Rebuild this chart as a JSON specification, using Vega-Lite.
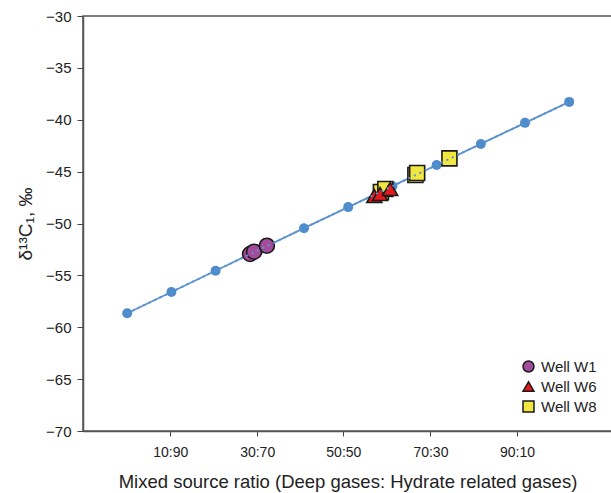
{
  "$schema": "https://vega.github.io/schema/vega-lite/v6.json",
  "width": 529,
  "height": 415,
  "autosize": "none",
  "padding": {"left": 83, "top": 16, "right": 0, "bottom": 62},
  "background": "white",
  "config": {
    "font": "Liberation Sans",
    "view": {"stroke": "#555", "strokeWidth": 1.5},
    "axis": {
      "grid": false,
      "domainColor": "#555",
      "domainWidth": 1.5,
      "tickColor": "#444",
      "labelColor": "#222",
      "titleColor": "#222",
      "labelFontSize": 14,
      "titleFontWeight": "normal"
    }
  },
  "datasets": {
    "line": [
      {"ratio": 0, "d13c": -58.65},
      {"ratio": 10, "d13c": -56.6},
      {"ratio": 20, "d13c": -54.55},
      {"ratio": 30, "d13c": -52.5},
      {"ratio": 40, "d13c": -50.45},
      {"ratio": 50, "d13c": -48.42},
      {"ratio": 60, "d13c": -46.4},
      {"ratio": 70, "d13c": -44.36},
      {"ratio": 80, "d13c": -42.33},
      {"ratio": 90, "d13c": -40.3},
      {"ratio": 100, "d13c": -38.28}
    ],
    "wells": [
      {"well": "Well W6", "ratio": 55.9, "d13c": -47.35},
      {"well": "Well W6", "ratio": 57.2, "d13c": -47.16},
      {"well": "Well W6", "ratio": 59.5, "d13c": -46.67},
      {"well": "Well W8", "ratio": 57.4, "d13c": -46.96},
      {"well": "Well W8", "ratio": 58.4, "d13c": -46.67},
      {"well": "Well W8", "ratio": 65.2, "d13c": -45.33},
      {"well": "Well W8", "ratio": 65.6, "d13c": -45.13},
      {"well": "Well W8", "ratio": 72.9, "d13c": -43.72},
      {"well": "Well W1", "ratio": 27.8, "d13c": -52.94},
      {"well": "Well W1", "ratio": 28.7, "d13c": -52.72},
      {"well": "Well W1", "ratio": 31.6, "d13c": -52.14}
    ]
  },
  "layer": [
    {
      "data": {"name": "line"},
      "mark": {"type": "line", "color": "#5b93cf", "strokeWidth": 1.8},
      "encoding": {
        "x": {
          "field": "ratio", "type": "quantitative",
          "scale": {"domain": [-10, 109.68], "nice": false, "zero": false},
          "axis": {
            "values": [9.75, 29.4, 48.9, 68.6, 88.2],
            "labelExpr": "datum.value < 20 ? '10:90' : datum.value < 40 ? '30:70' : datum.value < 60 ? '50:50' : datum.value < 80 ? '70:30' : '90:10'",
            "title": "Mixed source ratio (Deep gases: Hydrate related gases)",
            "titleFontSize": 18.5,
            "tickSize": 5,
            "labelPadding": 9,
            "titlePadding": 13
          }
        },
        "y": {
          "field": "d13c", "type": "quantitative",
          "scale": {"domain": [-70, -30], "nice": false, "zero": false},
          "axis": {
            "values": [-70, -65, -60, -55, -50, -45, -40, -35, -30],
            "title": "δ¹³C₁, ‰",
            "titleFontSize": 19,
            "labelFontSize": 15,
            "tickSize": 6,
            "labelPadding": 6,
            "titlePadding": 10
          }
        }
      }
    },
    {
      "data": {"name": "line"},
      "mark": {"type": "circle", "color": "#4f8ccb", "opacity": 1, "size": 100},
      "encoding": {
        "x": {"field": "ratio", "type": "quantitative"},
        "y": {"field": "d13c", "type": "quantitative"}
      }
    },
    {
      "data": {"name": "wells"},
      "mark": {"type": "point", "filled": true, "opacity": 1, "stroke": "#1a1a1a", "strokeWidth": 1.6, "size": 225},
      "encoding": {
        "x": {"field": "ratio", "type": "quantitative"},
        "y": {"field": "d13c", "type": "quantitative"},
        "color": {
          "field": "well", "type": "nominal",
          "scale": {"domain": ["Well W1", "Well W6", "Well W8"], "range": ["#a44c9c", "#e3191c", "#f2e641"]},
          "legend": {
            "title": null,
            "orient": "none",
            "legendX": 438,
            "legendY": 343,
            "labelFontSize": 15,
            "labelColor": "#222",
            "symbolSize": 120,
            "symbolStrokeColor": "#1a1a1a",
            "symbolStrokeWidth": 1.5,
            "symbolOpacity": 1,
            "rowPadding": 3,
            "labelOffset": 5
          }
        },
        "shape": {
          "field": "well", "type": "nominal",
          "scale": {"domain": ["Well W1", "Well W6", "Well W8"], "range": ["circle", "triangle-up", "square"]}
        },
        "order": {"field": "well", "sort": "descending"}
      }
    },
    {
      "data": {"name": "line"},
      "mark": {"type": "line", "color": "#5b93cf", "strokeWidth": 2, "strokeDash": [2, 4]},
      "encoding": {
        "x": {"field": "ratio", "type": "quantitative"},
        "y": {"field": "d13c", "type": "quantitative"}
      }
    }
  ]
}
